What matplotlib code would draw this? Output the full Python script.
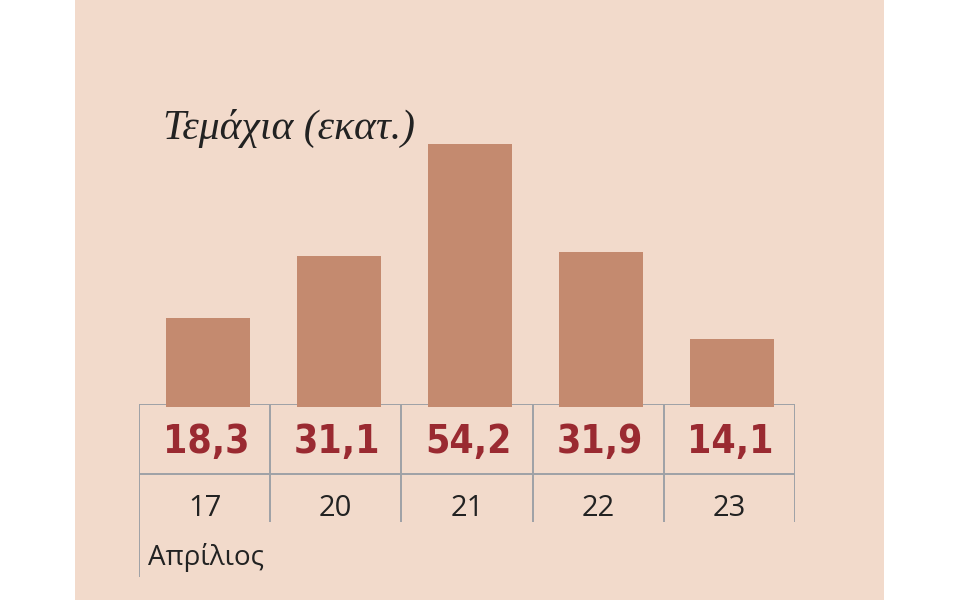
import matplotlib.pyplot as plt
from matplotlib.patches import Rectangle

## Data
days = ['17', '20', '21', '22', '23']
values = [18.3, 31.1, 54.2, 31.9, 14.1]
value_labels = ['18,3', '31,1', '54,2', '31,9', '14,1']
month = 'Απρίλιος'
title = 'Τεμάχια (εκατ.)'

## Colours
panel_col = '#F2DACB'
bar_col = '#C48A6F'
val_col = '#9A2A31'
line_col = '#9EA1A6'
text_col = '#222222'

W, H = 960, 600
fig = plt.figure(figsize=(W / 100, H / 100), dpi=100)
fig.patch.set_facecolor('white')

def px_axes(x0, y0, x1, y1):
    # axes from pixel box (top-left origin)
    return fig.add_axes([x0 / W, 1 - y1 / H, (x1 - x0) / W, (y1 - y0) / H])

## Background panel
fig.add_artist(Rectangle((75 / W, 0), (884 - 75) / W, 1,
                         transform=fig.transFigure, facecolor=panel_col,
                         edgecolor='none', zorder=0))

n = len(days)

## Table (lines + labels)
tab = px_axes(139, 404, 795, 577)
tab.set_xlim(-0.5, n - 0.5)
tab.set_ylim(173, 0)
tab.axis('off')
tab.patch.set_alpha(0)
for y in [0, 70]:
    tab.plot([-0.5, n - 0.5], [y, y], color=line_col, lw=1.4, solid_capstyle='butt')
for i in range(n + 1):
    ybot = 173 if i == 0 else 118
    tab.plot([i - 0.5, i - 0.5], [0, ybot], color=line_col, lw=1.4, solid_capstyle='butt')
for i in range(n):
    tab.text(i + 0.01, 38, value_labels[i], ha='center', va='center', color=val_col,
             fontsize=28, fontweight='bold', family='DejaVu Sans', fontstretch='condensed')
    tab.text(i, 104, days[i], ha='center', va='center', color=text_col,
             fontsize=21, family='Open Sans')
tab.text(-0.5 + 9 / 131.2, 154, month, ha='left', va='center', color=text_col,
         fontsize=20, family='Open Sans')

## Bars
ax = px_axes(142, 100, 798, 407)
ax.set_xlim(-0.5, n - 0.5)
ax.set_ylim(0, 63.3)
ax.axis('off')
ax.patch.set_alpha(0)
ax.bar(range(n), values, width=0.64, color=bar_col, zorder=3)

fig.text(163 / W, 1 - 128 / H, title, ha='left', va='center', color=text_col,
         fontsize=30, family='Liberation Serif', style='italic')

fig.savefig('out.png', dpi=100)
